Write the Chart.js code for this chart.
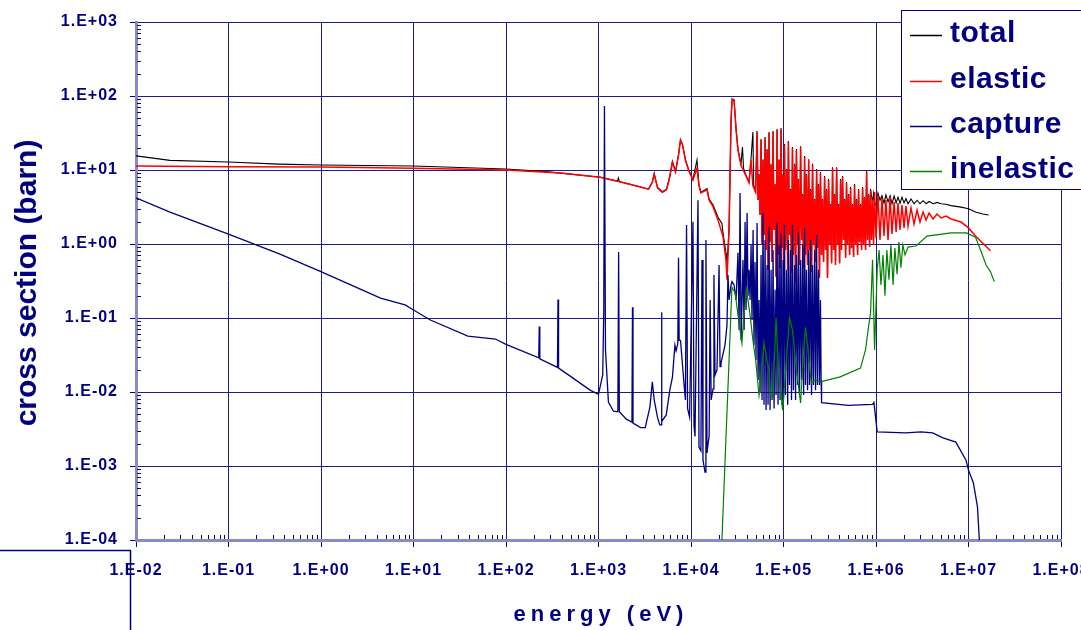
<!DOCTYPE html>
<html>
<head>
<meta charset="utf-8">
<script src="https://cdn.jsdelivr.net/npm/chart.js@4.4.1/dist/chart.umd.min.js"></script>
<style>
  html, body { margin: 0; padding: 0; background: #fff; }
  #wrap { width: 1081px; height: 630px; }
</style>
</head>
<body>
<div id="wrap"><canvas id="xsChart" width="1081" height="630"></canvas></div>
<script>
// axis decades
const energyTicks = [1e-2, 1e-1, 1e0, 1e1, 1e2, 1e3, 1e4, 1e5, 1e6, 1e7, 1e8];
const xsTicks = [1e-4, 1e-3, 1e-2, 1e-1, 1e0, 1e1, 1e2, 1e3];

const seriesNames = ['total', 'elastic', 'capture', 'inelastic'];
const seriesColors = ['#000000', '#ff0000', '#000080', '#008000'];
const seriesWidths = [1.1, 1.5, 1.3, 1.2];

// [energy (eV), cross section (barn)]
const totalXS = [
  [0.01, 15.5], [0.0233, 13.5], [0.1, 12.8], [0.35, 12.0], [1, 11.7], [10, 11.3], [100, 10.3], [270, 9.5],
  [1050, 8.0], [1600, 7.1], [1640, 7.8], [1680, 7.0], [2850, 5.9], [3470, 5.5], [3830, 6.9], [4000, 8.9],
  [4350, 5.8], [4900, 5.1], [5440, 5.5], [5860, 7.9], [6300, 13.0], [6800, 9.5], [7330, 16.1], [7700, 25.6],
  [8100, 22.0], [8700, 13.8], [9400, 10.2], [10500, 7.5], [11600, 13.6], [12200, 6.3], [12800, 5.0],
  [14900, 5.6], [15700, 4.0], [17300, 3.4], [19600, 2.3], [21600, 1.9], [22200, 1.4], [23900, 0.75],
  [24500, 0.5], [25800, 1.7], [27100, 47], [27800, 91], [29200, 89], [30700, 36], [32200, 19], [34700, 12],
  [36000, 20.4], [37000, 10.5], [39300, 8.5], [42400, 6.9], [44500, 14], [46700, 32.6], [47500, 6.3], [50000, 5.2],
  [5.18e4, 33.6], [5.31e4, 3.94], [5.44e4, 8.8], [5.58e4, 2.46], [5.72e4, 26.2], [5.86e4, 0.97], [6.01e4, 14],
  [6.16e4, 1.32], [6.32e4, 27.9], [6.48e4, 0.83], [6.64e4, 19.2], [6.81e4, 0.45], [6.98e4, 32.5], [7.16e4, 1.06],
  [7.34e4, 12.1], [7.52e4, 0.57], [7.71e4, 33.6], [7.91e4, 1.55], [8.11e4, 6.45], [8.31e4, 0.36], [8.52e4, 35.7],
  [8.73e4, 0.71], [8.95e4, 14], [9.18e4, 0.47], [9.41e4, 36.9], [9.65e4, 0.88], [9.89e4, 8.8], [1.0e5, 0.61],
  [1.025e5, 22.5], [1.05e5, 0.83], [1.08e5, 10.3], [1.11e5, 0.45], [1.13e5, 24.6], [1.16e5, 1.32], [1.19e5, 5.53],
  [1.22e5, 0.41], [1.25e5, 20.4], [1.28e5, 0.71], [1.32e5, 12.1], [1.35e5, 0.31], [1.38e5, 19.2], [1.42e5, 0.97],
  [1.45e5, 7.55], [1.49e5, 0.52], [1.53e5, 21], [1.57e5, 1.13], [1.61e5, 4.74], [1.65e5, 0.47], [1.69e5, 15.5],
  [1.73e5, 0.71], [1.77e5, 8.8], [1.82e5, 0.52], [1.87e5, 14], [1.91e5, 0.83], [1.96e5, 5.53], [2.01e5, 0.42],
  [2.06e5, 12.1], [2.11e5, 0.97], [2.17e5, 4.06], [2.22e5, 0.57], [2.28e5, 10.3], [2.33e5, 0.88], [2.39e5, 6.45],
  [2.45e5, 0.35], [2.51e5, 9.4], [2.58e5, 0.71], [2.64e5, 4.06], [2.71e5, 0.57], [2.78e5, 8.3], [2.85e5, 0.83],
  [2.92e5, 5.53], [2.99e5, 0.35], [3.07e5, 7.55], [3.15e5, 0.97], [3.23e5, 3.47], [3.31e5, 0.55], [3.39e5, 10.9],
  [3.48e5, 0.83], [3.56e5, 4.74], [3.65e5, 0.52], [3.75e5, 10.9], [3.84e5, 0.97], [3.94e5, 3.47], [4.04e5, 0.55],
  [4.14e5, 7.55], [4.24e5, 0.83], [4.35e5, 8.3], [4.46e5, 1.13], [4.57e5, 4.06], [4.69e5, 0.65], [4.80e5, 6.88],
  [4.92e5, 0.97], [5.05e5, 4.74], [5.18e5, 0.71], [5.31e5, 5.9], [5.44e5, 0.88], [5.58e5, 3.47], [5.72e5, 0.67],
  [5.86e5, 6.45], [6.01e5, 0.97], [6.16e5, 4.06], [6.32e5, 0.71], [6.48e5, 5.53], [6.64e5, 1.06], [6.81e5, 3.47],
  [6.98e5, 0.83], [7.16e5, 5.9], [7.34e5, 0.97], [7.52e5, 4.32], [7.71e5, 0.83], [7.91e5, 9.7], [8.11e5, 1.13],
  [8.31e5, 4.74], [8.52e5, 0.91], [8.73e5, 5.53],
  [8.95e5, 4.45], [9.18e5, 3.6], [9.41e5, 4.8], [9.65e5, 3.7], [1.0e6, 3.37], [1.05e6, 4.9], [1.105e6, 3.9],
  [1.16e6, 4.5], [1.22e6, 3.55], [1.28e6, 4.6], [1.35e6, 3.7], [1.42e6, 4.5], [1.49e6, 3.5], [1.57e6, 4.45],
  [1.65e6, 3.6], [1.73e6, 4.3], [1.82e6, 3.55], [1.91e6, 4.3], [2.01e6, 3.6], [2.11e6, 4.1], [2.22e6, 3.5],
  [2.39e6, 4.06], [2.58e6, 3.5], [2.78e6, 3.9], [2.99e6, 3.5], [3.23e6, 3.85], [3.48e6, 3.5], [3.75e6, 3.75],
  [4.14e6, 3.5], [4.57e6, 3.65], [5.05e6, 3.5], [5.72e6, 3.45], [6.48e6, 3.3], [8.31e6, 3.15], [1.0e7, 3.0],
  [1.19e7, 2.7], [1.42e7, 2.55], [1.65e7, 2.46]
];

const elasticXS = [
  [0.01, 11.3], [0.1, 11.1], [1, 11.0], [10, 10.6], [100, 10.0], [390, 9.1], [1050, 8.0], [1730, 6.9],
  [2850, 5.9], [3470, 5.5], [3830, 6.9], [4000, 8.8], [4350, 5.7], [4900, 5.0], [5440, 5.4], [5860, 7.8],
  [6300, 12.8], [6800, 9.4], [7330, 15.9], [7700, 25.4], [8100, 21.8], [8700, 13.6], [9400, 10], [10500, 7.3],
  [11600, 10.6], [12200, 6.1], [12800, 4.9], [14900, 5.4], [15700, 3.9], [17300, 3.2], [19600, 2.1],
  [22200, 1.25], [23900, 0.61], [24500, 0.33], [25800, 1.55], [27100, 47], [27800, 90], [29200, 88],
  [30700, 35], [32200, 18.6], [34700, 11.7], [39300, 8.3], [42400, 6.7], [44500, 13.6], [46700, 6.1], [50000, 5.0],
  [5.18e4, 32.6], [5.31e4, 3.94], [5.44e4, 8.55], [5.58e4, 2.46], [5.72e4, 25.4], [5.86e4, 0.97], [6.01e4, 13.6],
  [6.16e4, 1.32], [6.32e4, 27.1], [6.48e4, 0.83], [6.64e4, 18.6], [6.81e4, 0.45], [6.98e4, 31.6], [7.16e4, 1.06],
  [7.34e4, 11.7], [7.52e4, 0.57], [7.71e4, 32.6], [7.91e4, 1.55], [8.11e4, 6.26], [8.31e4, 0.36], [8.52e4, 34.7],
  [8.73e4, 0.71], [8.95e4, 13.6], [9.18e4, 0.47], [9.41e4, 35.8], [9.65e4, 0.88], [9.89e4, 8.55], [1.0e5, 0.61],
  [1.025e5, 21.8], [1.05e5, 0.83], [1.08e5, 10], [1.11e5, 0.45], [1.13e5, 23.9], [1.16e5, 1.32], [1.19e5, 5.37],
  [1.22e5, 0.41], [1.25e5, 19.8], [1.28e5, 0.71], [1.32e5, 11.7], [1.35e5, 0.31], [1.38e5, 18.6], [1.42e5, 0.97],
  [1.45e5, 7.33], [1.49e5, 0.52], [1.53e5, 20.4], [1.57e5, 1.13], [1.61e5, 4.6], [1.65e5, 0.47], [1.69e5, 15.0],
  [1.73e5, 0.71], [1.77e5, 8.55], [1.82e5, 0.52], [1.87e5, 13.6], [1.91e5, 0.83], [1.96e5, 5.37], [2.01e5, 0.42],
  [2.06e5, 11.7], [2.11e5, 0.97], [2.17e5, 3.94], [2.22e5, 0.57], [2.28e5, 10], [2.33e5, 0.88], [2.39e5, 6.26],
  [2.45e5, 0.35], [2.51e5, 9.1], [2.58e5, 0.71], [2.64e5, 3.94], [2.71e5, 0.57], [2.78e5, 8.05], [2.85e5, 0.83],
  [2.92e5, 5.37], [2.99e5, 0.35], [3.07e5, 7.33], [3.15e5, 0.97], [3.23e5, 3.37], [3.31e5, 0.55], [3.39e5, 10.6],
  [3.48e5, 0.83], [3.56e5, 4.6], [3.65e5, 0.52], [3.75e5, 10.6], [3.84e5, 0.97], [3.94e5, 3.37], [4.04e5, 0.55],
  [4.14e5, 7.33], [4.24e5, 0.83], [4.35e5, 8.05], [4.46e5, 1.13], [4.57e5, 3.94], [4.69e5, 0.65], [4.80e5, 6.68],
  [4.92e5, 0.97], [5.05e5, 4.6], [5.18e5, 0.71], [5.31e5, 5.72], [5.44e5, 0.88], [5.58e5, 3.37], [5.72e5, 0.67],
  [5.86e5, 6.26], [6.01e5, 0.97], [6.16e5, 3.94], [6.32e5, 0.71], [6.48e5, 5.37], [6.64e5, 1.06], [6.81e5, 3.37],
  [6.98e5, 0.83], [7.16e5, 5.72], [7.34e5, 0.97], [7.52e5, 4.19], [7.71e5, 0.83], [7.91e5, 9.4], [8.11e5, 1.13],
  [8.31e5, 4.6], [8.52e5, 0.91], [8.73e5, 5.37], [8.95e5, 1.13], [9.18e5, 3.94], [9.41e5, 0.97], [9.65e5, 5.05],
  [1.0e6, 1.21], [1.05e6, 4.6], [1.105e6, 1.13], [1.16e6, 4.19], [1.22e6, 1.28], [1.28e6, 3.94], [1.35e6, 1.13],
  [1.42e6, 4.32], [1.49e6, 1.37], [1.57e6, 3.70], [1.65e6, 1.45], [1.73e6, 3.58], [1.82e6, 1.55], [1.91e6, 3.37],
  [2.01e6, 1.65], [2.11e6, 3.26], [2.22e6, 1.75], [2.39e6, 3.07], [2.58e6, 1.86], [2.78e6, 2.88], [2.99e6, 1.98],
  [3.23e6, 2.71], [3.48e6, 2.11], [3.75e6, 2.62], [4.14e6, 2.18], [4.57e6, 2.54], [5.05e6, 2.25], [5.72e6, 2.39],
  [6.48e6, 2.18], [8.31e6, 1.98], [1.0e7, 1.65], [1.19e7, 1.28], [1.42e7, 1.03], [1.73e7, 0.81]
];

const captureXS = [
  [0.01, 4.2], [0.0233, 2.7], [0.1, 1.36], [0.36, 0.73], [0.97, 0.43], [4.4, 0.186], [8.1, 0.15], [10, 0.128],
  [15.2, 0.094], [38.7, 0.057], [77, 0.052], [100, 0.044],
  [226, 0.029], [229, 0.077], [232, 0.028], [360, 0.0215], [365, 0.178], [370, 0.021],
  [490, 0.0165], [810, 0.0106], [1000, 0.0093],
  [1110, 0.017], [1140, 0.12], [1160, 73], [1190, 0.037], [1280, 0.0073], [1450, 0.0055],
  [1620, 0.0054], [1650, 0.78], [1680, 0.0054], [2000, 0.0043], [2300, 0.0039], [2330, 0.14], [2360, 0.0038],
  [2850, 0.0033], [3200, 0.0033], [3600, 0.0063], [3820, 0.0137], [4000, 0.0078], [4350, 0.0045], [4600, 0.0036],
  [4750, 0.0036], [4800, 0.12], [4850, 0.004], [5400, 0.0049], [5900, 0.0106], [6300, 0.0159], [6700, 0.043],
  [6900, 0.036], [7200, 0.045], [7330, 0.65], [7450, 0.05], [7700, 0.05], [8400, 0.013], [8700, 0.0078],
  [8950, 1.8], [9180, 0.006], [9650, 0.0046], [10500, 2.0], [10780, 0.0035], [11050, 0.0025],
  [11900, 3.9], [12200, 0.0018], [12800, 0.0016], [13150, 0.61], [13480, 0.0012], [13820, 0.001], [14170, 0.00083],
  [14500, 1.13], [14900, 0.0015], [15300, 0.002], [15700, 0.0025], [16100, 0.175], [16500, 0.0078], [17300, 0.011],
  [17700, 0.38], [18200, 0.017], [19100, 0.0198], [20100, 0.52], [20600, 0.022], [21100, 0.0246], [23300, 0.043],
  [24500, 0.08], [25100, 0.38], [25800, 0.175], [27100, 0.28], [27800, 0.31], [29200, 0.28], [30700, 0.175],
  [32200, 0.76], [33100, 0.069], [33900, 4.9], [34800, 0.05], [36500, 0.61], [37500, 0.069], [38400, 1.98],
  [39400, 0.128], [40400, 2.62], [41400, 0.2], [42400, 0.45], [43500, 0.175], [44600, 0.97], [45700, 0.094],
  [46900, 1.55], [48000, 0.043], [49200, 0.57], [50500, 0.027],
  [51800, 1.92], [53100, 0.0145], [54400, 0.175], [55800, 0.01], [57200, 0.71], [58600, 0.0078], [60100, 2.62],
  [61600, 0.0067], [63200, 1.13], [64800, 0.0057], [66400, 0.52], [68100, 0.0067], [69800, 1.7], [71600, 0.0057],
  [73400, 0.45], [75200, 0.0078], [77100, 0.83], [79100, 0.006], [81100, 0.24], [83100, 0.0091], [85200, 1.98],
  [87300, 0.0067], [89500, 0.97], [91800, 0.0078], [94100, 1.4], [96500, 0.0067], [98900, 0.61],
  [100000, 0.0078], [102500, 1.81], [105000, 0.0091], [108000, 0.45], [111000, 0.0067], [113000, 1.13],
  [116000, 0.0124], [119000, 0.83], [122000, 0.0078], [125000, 1.81], [128000, 0.0106], [132000, 0.52],
  [135000, 0.0078], [138000, 0.71], [142000, 0.0124], [145000, 1.45], [149000, 0.0091], [153000, 0.61],
  [157000, 0.0145], [161000, 0.97], [165000, 0.0091], [169000, 1.65], [173000, 0.0124], [177000, 0.45],
  [182000, 0.0106], [187000, 0.83], [191000, 0.0124], [196000, 1.13], [201000, 0.0091], [206000, 0.52],
  [211000, 0.0124], [217000, 0.83], [222000, 0.0106], [228000, 1.32], [233000, 0.0124], [239000, 0.45],
  [245000, 0.0124], [251000, 0.175], [255000, 0.0145], [258000, 0.0072],
  [500000, 0.0066], [918000, 0.0068], [950000, 0.0072], [1030000, 0.0029], [2100000, 0.0028], [3070000, 0.0029],
  [4100000, 0.0028], [5300000, 0.0024], [7300000, 0.0021], [9400000, 0.0012], [10000000, 0.00088],
  [11300000, 0.00059], [12500000, 0.00028], [13100000, 0.0001]
];

const inelasticXS = [
  [21600, 0.0001], [27700, 0.26], [30000, 0.22], [32200, 0.11], [35500, 0.046], [37000, 0.094], [39800, 0.24],
  [43500, 0.11], [46700, 0.05], [50000, 0.027], [54400, 0.009], [57100, 0.0145], [61500, 0.046], [66000, 0.027],
  [69700, 0.02], [72000, 0.009], [77000, 0.0086], [83000, 0.1], [89000, 0.016], [98000, 0.0057], [110000, 0.04],
  [116000, 0.1], [125000, 0.069], [138000, 0.02], [153000, 0.0071], [165000, 0.036], [173000, 0.075],
  [187000, 0.03], [200000, 0.013], [220000, 0.0145], [250000, 0.0137], [410000, 0.016], [680000, 0.021],
  [770000, 0.037], [830000, 0.076], [873000, 0.117], [918000, 0.61], [965000, 0.037], [1030000, 0.45],
  [1080000, 0.83], [1130000, 0.28], [1190000, 0.71], [1250000, 0.2], [1310000, 0.83], [1380000, 0.33],
  [1450000, 0.97], [1530000, 0.28], [1600000, 0.88], [1690000, 0.39], [1770000, 1.06], [1860000, 0.48],
  [1950000, 0.97], [2060000, 0.71], [2220000, 0.91], [2710000, 0.94], [3550000, 1.28], [6500000, 1.41],
  [9500000, 1.41], [11900000, 1.24], [13500000, 0.83], [15500000, 0.52], [17300000, 0.42], [19000000, 0.31]
];

const seriesData = [totalXS, elasticXS, captureXS, inelasticXS];

const navy = '#000080';
const gridColor = '#1c1c88';
const fontFamily = '"Liberation Sans", Arial, Helvetica, sans-serif';

function sciLabel(v) {
  const e = Math.round(Math.log10(v));
  return '1.E' + (e < 0 ? '-' : '+') + String(Math.abs(e)).padStart(2, '0');
}

// minor ticks, axis titles, legend box and the stray frame in the corner
const decorations = {
  id: 'decorations',
  beforeDraw(chart) {
    chart.ctx.letterSpacing = '1px';
  },
  afterDraw(chart) {
    const ctx = chart.ctx;
    const xs = chart.scales.x, ys = chart.scales.y;
    const area = chart.chartArea;
    ctx.save();
    ctx.letterSpacing = '0px';

    ctx.strokeStyle = navy;
    ctx.lineWidth = 1;
    ctx.beginPath();
    for (let d = -2; d < 8; d++) {
      for (let m = 2; m <= 9; m++) {
        const px = Math.round(xs.getPixelForValue(m * Math.pow(10, d))) + 0.5;
        ctx.moveTo(px, area.bottom - 1);
        ctx.lineTo(px, area.bottom - 5);
      }
    }
    for (let d = -4; d < 3; d++) {
      for (let m = 2; m <= 9; m++) {
        const py = Math.round(ys.getPixelForValue(m * Math.pow(10, d))) + 0.5;
        ctx.moveTo(area.left + 1, py);
        ctx.lineTo(area.left + 5, py);
      }
    }
    ctx.stroke();

    // axis titles
    ctx.fillStyle = navy;
    ctx.font = 'bold 22px ' + fontFamily;
    ctx.letterSpacing = '5px';
    ctx.textAlign = 'center';
    ctx.textBaseline = 'alphabetic';
    ctx.fillText('energy (eV)', 601, 621);

    ctx.save();
    ctx.letterSpacing = '0px';
    ctx.translate(36, 283);
    ctx.rotate(-Math.PI / 2);
    ctx.font = 'bold 30px ' + fontFamily;
    ctx.fillText('cross section (barn)', 0, 0);
    ctx.restore();

    // legend
    ctx.fillStyle = '#ffffff';
    ctx.fillRect(901, 10, 200, 180);
    ctx.strokeStyle = navy;
    ctx.lineWidth = 1;
    ctx.strokeRect(901.5, 10.5, 200, 179);
    ctx.font = 'bold 30px ' + fontFamily;
    ctx.letterSpacing = '0.5px';
    ctx.textAlign = 'left';
    const rowY = [35, 81, 126, 171];
    chart.data.datasets.forEach((ds, i) => {
      ctx.strokeStyle = ds.borderColor;
      ctx.lineWidth = 1.5;
      ctx.beginPath();
      ctx.moveTo(910, rowY[i] + 0.5);
      ctx.lineTo(942, rowY[i] + 0.5);
      ctx.stroke();
      ctx.fillStyle = navy;
      ctx.fillText(ds.label, 950, rowY[i] + 7);
    });

    // frame fragment bottom left
    ctx.strokeStyle = navy;
    ctx.lineWidth = 1.5;
    ctx.beginPath();
    ctx.moveTo(0, 550.5);
    ctx.lineTo(130.5, 550.5);
    ctx.lineTo(130.5, 630);
    ctx.stroke();
    ctx.restore();
  }
};

Chart.defaults.font.family = fontFamily;

new Chart(document.getElementById('xsChart'), {
  type: 'scatter',
  data: {
    datasets: seriesNames.map((name, i) => ({
      label: name,
      data: seriesData[i],
      borderColor: seriesColors[i],
      backgroundColor: seriesColors[i],
      borderWidth: seriesWidths[i],
      pointRadius: 0,
      showLine: true,
      tension: 0,
      order: 4 - i
    }))
  },
  options: {
    responsive: false,
    animation: false,
    layout: { padding: { top: 22, right: 20, bottom: 0, left: 0 } },
    plugins: { legend: { display: false }, tooltip: { enabled: false } },
    scales: {
      x: {
        type: 'logarithmic',
        min: 1e-2,
        max: 1e8,
        afterBuildTicks: s => { s.ticks = energyTicks.map(v => ({ value: v })); },
        afterFit: s => { s.height = 90; s.paddingLeft = 0; s.paddingRight = 0; },
        ticks: {
          callback: v => sciLabel(v),
          color: navy,
          font: { size: 16, weight: 'bold' },
          padding: 14,
          maxRotation: 0,
          autoSkip: false
        },
        grid: { color: gridColor, lineWidth: 1, tickLength: 7, tickColor: navy },
        border: { color: '#8a8ac6', width: 3 }
      },
      y: {
        type: 'logarithmic',
        min: 1e-4,
        max: 1e3,
        afterBuildTicks: s => { s.ticks = xsTicks.map(v => ({ value: v })); },
        afterFit: s => { s.width = 136; s.paddingTop = 0; s.paddingBottom = 0; },
        ticks: {
          callback: v => sciLabel(v),
          color: navy,
          font: { size: 16, weight: 'bold' },
          padding: 12,
          autoSkip: false
        },
        grid: { color: gridColor, lineWidth: 1, tickLength: 6, tickColor: navy },
        border: { color: '#8a8ac6', width: 3 }
      }
    }
  },
  plugins: [decorations]
});
</script>
</body>
</html>
